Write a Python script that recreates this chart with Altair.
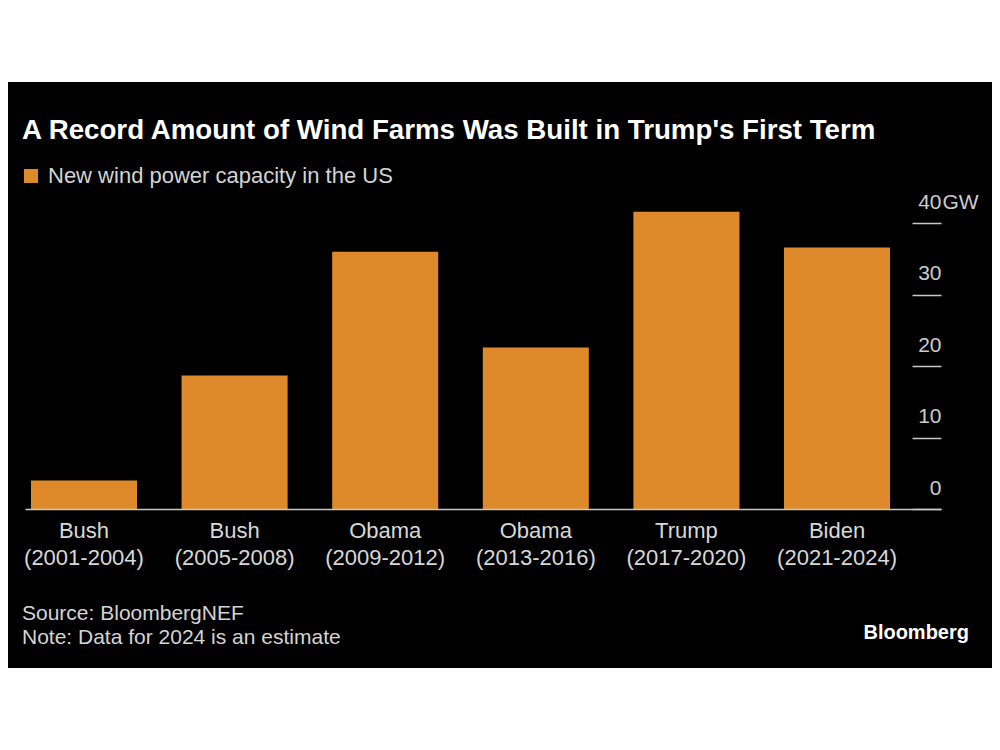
import altair as alt
import pandas as pd

# ---- data ----
terms = ["Bush (2001-2004)", "Bush (2005-2008)", "Obama (2009-2012)",
         "Obama (2013-2016)", "Trump (2017-2020)", "Biden (2021-2024)"]
capacity_gw = [4.0, 18.7, 36.0, 22.6, 41.6, 36.6]
series_name = "New wind power capacity in the US"
tick_values = [0, 10, 20, 30, 40]
title_text = "A Record Amount of Wind Farms Was Built in Trump's First Term"
notes = ["Source: BloombergNEF", "Note: Data for 2024 is an estimate"]
brand = "Bloomberg"

ORANGE = "#DF8A2A"
FONT = "Liberation Sans"

df = pd.DataFrame({"term": terms, "value": capacity_gw, "series": [series_name] * len(terms)})

W, H = 916, 300

# black panel behind the graphic
panel = alt.Chart(pd.DataFrame({"k": [0]})).mark_rect(color="black").encode(
    x=alt.value(-30), x2=alt.value(1000), y=alt.value(-127), y2=alt.value(459)
)

bars = alt.Chart(df).mark_bar().encode(
    x=alt.X("term:N", sort=terms,
            scale=alt.Scale(paddingInner=0.296, paddingOuter=0.189, align=0.105),
            axis=alt.Axis(title=None, orient="bottom", ticks=False, domain=True,
                          domainColor="#c8c8c8", domainWidth=1.5, labelAngle=0,
                          labelExpr="split(datum.label, ' ')", labelLineHeight=27,
                          labelFontSize=22, labelFont=FONT, labelColor="#d8d8d8",
                          labelPadding=11, labelOverlap=False, grid=False, zindex=1)),
    y=alt.Y("value:Q",
            scale=alt.Scale(domain=[0, 42], nice=False, zero=True),
            axis=alt.Axis(orient="right", offset=-29, domain=False, grid=False,
                          values=tick_values, tickSize=29, tickColor="#c8c8c8",
                          tickWidth=1.5, labelAlign="right", labelPadding=0,
                          labelBaseline="alphabetic", labelOffset=-15,
                          labelFontSize=21, labelFont=FONT, labelColor="#cccccc",
                          labelFlush=False,
                          title="GW", titleAngle=0, titleX=30, titleY=-1,
                          titleAlign="left", titleBaseline="alphabetic",
                          titleFontWeight="normal", titleFontSize=21, titleFont=FONT,
                          titleColor="#cccccc", zindex=1)),
    color=alt.Color("series:N", scale=alt.Scale(range=[ORANGE]),
                    legend=alt.Legend(title=None, orient="none", legendX=-5, legendY=-44,
                                      symbolType="square", symbolSize=196,
                                      symbolStrokeWidth=0, labelFontSize=22,
                                      labelFont=FONT, labelColor="#d4d4d4",
                                      labelOffset=6, padding=0, zindex=1,
                                      labelLimit=600)),
)

title = alt.Chart(pd.DataFrame({"t": [title_text]})).mark_text(
    align="left", baseline="alphabetic", font=FONT, fontSize=27.7,
    fontWeight="bold", color="white"
).encode(text="t:N", x=alt.value(-3), y=alt.value(-70))

note1 = alt.Chart(pd.DataFrame({"t": [notes[0]]})).mark_text(
    align="left", baseline="alphabetic", font=FONT, fontSize=21, color="#d4d4d4"
).encode(text="t:N", x=alt.value(-3), y=alt.value(411))

note2 = alt.Chart(pd.DataFrame({"t": [notes[1]]})).mark_text(
    align="left", baseline="alphabetic", font=FONT, fontSize=21, color="#d4d4d4"
).encode(text="t:N", x=alt.value(-3), y=alt.value(435))

logo = alt.Chart(pd.DataFrame({"t": [brand]})).mark_text(
    align="right", baseline="alphabetic", font=FONT, fontSize=20,
    fontWeight="bold", color="white"
).encode(text="t:N", x=alt.value(944), y=alt.value(430))

chart = alt.layer(panel, bars, title, note1, note2, logo).properties(
    width=W, height=H,
    autosize=alt.AutoSizeParams(type="none"),
    padding={"left": 17, "top": 201, "right": 51, "bottom": 225},
    background="white",
).configure_view(stroke=None)

chart.save("out.html", embed_options={"renderer": "svg", "actions": False})
